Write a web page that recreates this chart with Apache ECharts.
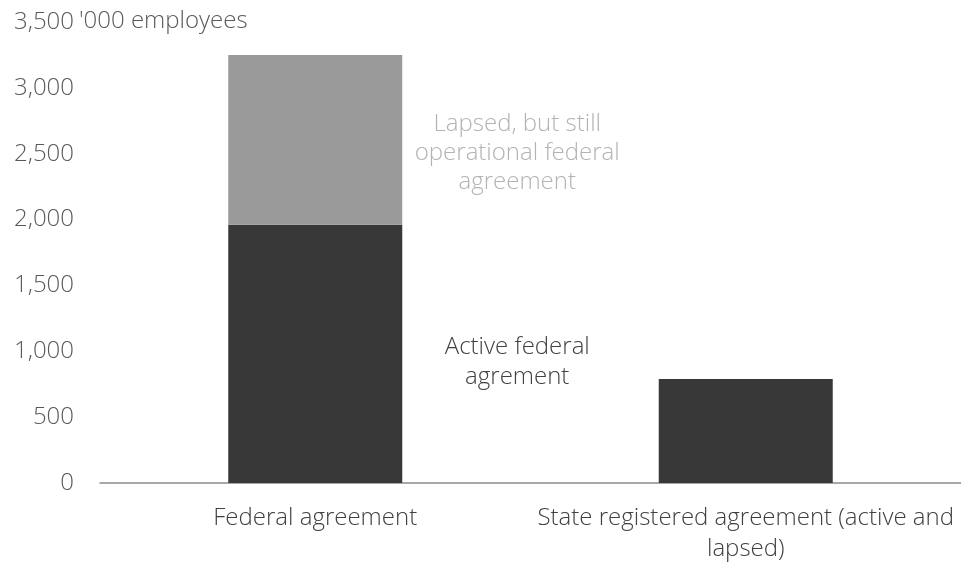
<!DOCTYPE html>
<html>
<head>
<meta charset="utf-8">
<script src="https://cdn.jsdelivr.net/npm/echarts@6/dist/echarts.min.js"></script>
<style>
  html, body { margin: 0; padding: 0; background: #ffffff; }
  #chart { width: 961px; height: 565px; }
</style>
</head>
<body>
<div id="chart"></div>
<script>
// Employees covered ('000) by agreement type
const categories = ['Federal agreement', 'State registered agreement (active and\nlapsed)'];
const activeValues = [1960, 790];
const lapsedValues = [1290, '-'];
const yTicks = [0, 500, 1000, 1500, 2000, 2500, 3000, 3500];
const unitLabel = "'000 employees";
const activeNote = 'Active federal\nagrement';
const lapsedNote = 'Lapsed, but still\noperational federal\nagreement';

const FONT = '"Open Sans", Roboto, sans-serif';
const WEIGHT = 300;
const SIZE = 24;

const chart = echarts.init(document.getElementById('chart'), null, { renderer: 'canvas' });

chart.setOption({
  animation: false,
  backgroundColor: '#ffffff',
  grid: { left: 100, right: -4, top: 22, bottom: 80, containLabel: false },
  xAxis: {
    type: 'category',
    data: categories,
    axisLine: { show: true, lineStyle: { color: '#8c8c8c', width: 1.5 } },
    axisTick: { show: false },
    axisLabel: {
      color: '#404040',
      fontFamily: FONT,
      fontWeight: WEIGHT,
      fontSize: SIZE,
      lineHeight: 31,
      margin: 20,
      interval: 0
    }
  },
  yAxis: {
    type: 'value',
    min: yTicks[0],
    max: yTicks[yTicks.length - 1],
    interval: 500,
    splitLine: { show: false },
    axisLine: { show: false },
    axisTick: { show: false },
    axisLabel: {
      color: '#595959',
      fontFamily: FONT,
      fontWeight: WEIGHT,
      fontSize: SIZE,
      margin: 26,
      formatter: function (v) {
        return v.toLocaleString('en-US');
      }
    }
  },
  graphic: [{
    type: 'text',
    left: 79,
    top: 9,
    style: {
      text: unitLabel,
      fill: '#595959',
      font: WEIGHT + ' ' + SIZE + 'px ' + FONT
    }
  }],
  series: [
    {
      name: 'Active',
      type: 'bar',
      stack: 'total',
      barWidth: 174,
      itemStyle: { color: '#383838' },
      data: activeValues.map(function (v, i) {
        return i === 0 ? {
          value: v,
          label: {
            show: true,
            position: 'right',
            distance: 0,
            align: 'center',
            offset: [115, 8],
            formatter: activeNote,
            color: '#404040',
            fontFamily: FONT,
            fontWeight: WEIGHT,
            fontSize: SIZE,
            lineHeight: 30
          }
        } : v;
      })
    },
    {
      name: 'Lapsed',
      type: 'bar',
      stack: 'total',
      barWidth: 174,
      itemStyle: { color: '#9a9a9a' },
      data: lapsedValues.map(function (v, i) {
        return i === 0 ? {
          value: v,
          label: {
            show: true,
            position: 'right',
            distance: 0,
            align: 'center',
            offset: [115, 13],
            formatter: lapsedNote,
            color: '#b3b3b3',
            fontFamily: FONT,
            fontWeight: WEIGHT,
            fontSize: SIZE,
            lineHeight: 29
          }
        } : v;
      })
    }
  ]
});
</script>
</body>
</html>
